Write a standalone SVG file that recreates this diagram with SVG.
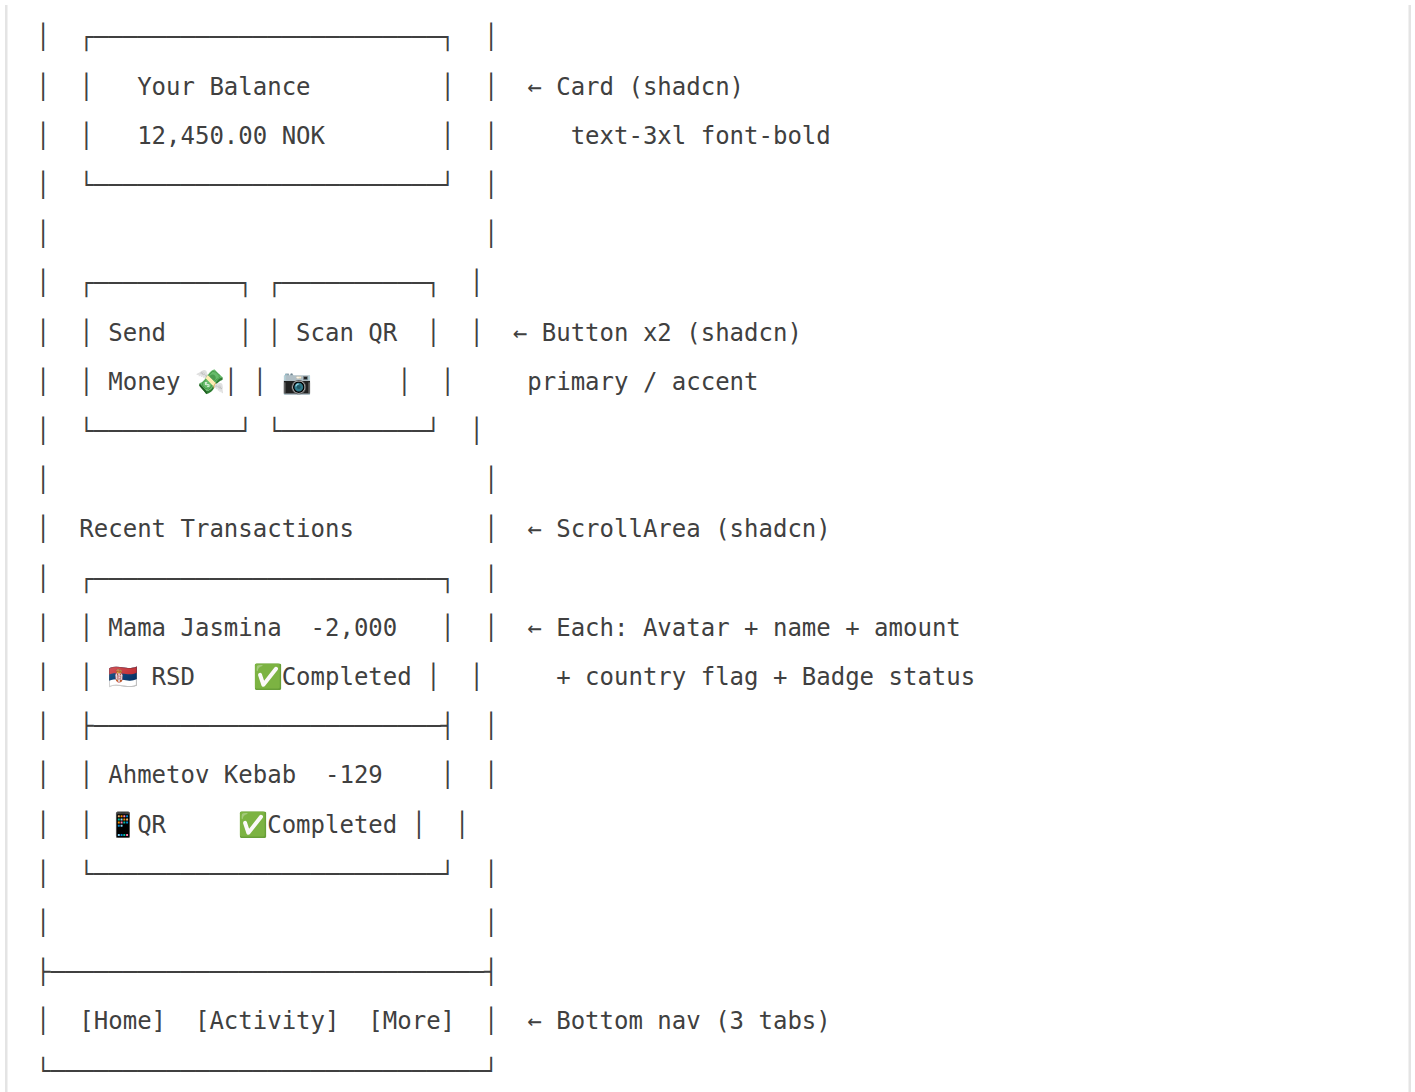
<svg xmlns="http://www.w3.org/2000/svg" width="1415" height="1092" viewBox="0 0 1415 1092">
<style>
text { font-family: "DejaVu Sans Mono", "Liberation Mono", monospace; font-size: 24px; fill: #404040; white-space: pre; }
.edge { fill: #e4e4e4; }
</style>
<rect x="0" y="0" width="1415" height="1092" fill="#ffffff"/>
<rect class="edge" x="5" y="5" width="2.5" height="1087"/>
<rect class="edge" x="1408.5" y="5" width="2.5" height="1087"/>

<g id="phone-frame">
  <text x="36" y="45.3">│</text><text x="483.95" y="45.3">│</text>
  <text x="36" y="94.5">│</text><text x="483.95" y="94.5">│</text>
  <text x="36" y="143.7">│</text><text x="483.95" y="143.7">│</text>
  <text x="36" y="192.9">│</text><text x="483.95" y="192.9">│</text>
  <text x="36" y="242.1">│</text><text x="483.95" y="242.1">│</text>
  <text x="36" y="291.3">│</text><text x="469.5" y="291.3">│</text>
  <text x="36" y="340.5">│</text><text x="469.5" y="340.5">│</text>
  <text x="36" y="389.7">│</text><text x="440.6" y="389.7">│</text>
  <text x="36" y="438.9">│</text><text x="469.5" y="438.9">│</text>
  <text x="36" y="488.1">│</text><text x="483.95" y="488.1">│</text>
  <text x="36" y="537.3">│</text><text x="483.95" y="537.3">│</text>
  <text x="36" y="586.5">│</text><text x="483.95" y="586.5">│</text>
  <text x="36" y="635.7">│</text><text x="483.95" y="635.7">│</text>
  <text x="36" y="684.9">│</text><text x="469.5" y="684.9">│</text>
  <text x="36" y="734.1">│</text><text x="483.95" y="734.1">│</text>
  <text x="36" y="783.3">│</text><text x="483.95" y="783.3">│</text>
  <text x="36" y="832.5">│</text><text x="455.05" y="832.5">│</text>
  <text x="36" y="881.7">│</text><text x="483.95" y="881.7">│</text>
  <text x="36" y="930.9">│</text><text x="483.95" y="930.9">│</text>
  <text x="36" y="980.1">├──────────────────────────────┤</text>
  <text x="36" y="1029.3">│</text><text x="483.95" y="1029.3">│</text>
  <text x="36" y="1078.5">└──────────────────────────────┘</text>
</g>

<g id="balance-card">
  <text x="79.35" y="45.3">┌────────────────────────┐</text>
  <text x="79.35" y="94.5">│</text><text x="137.15" y="94.5">Your Balance</text><text x="440.6" y="94.5">│</text>
  <text x="79.35" y="143.7">│</text><text x="137.15" y="143.7">12,450.00 NOK</text><text x="440.6" y="143.7">│</text>
  <text x="79.35" y="192.9">└────────────────────────┘</text>
</g>

<g id="action-buttons">
  <text x="79.35" y="291.3">┌──────────┐ ┌──────────┐</text>
  <text x="79.35" y="340.5">│ Send     │</text><text x="267.2" y="340.5">│ Scan QR  │</text>
  <text x="79.35" y="389.7">│ Money </text><text x="194.95" y="389.7">💸</text><text x="223.85" y="389.7">│</text>
  <text x="252.75" y="389.7">│</text><text x="281.65" y="389.7">📷</text><text x="397.25" y="389.7">│</text>
  <text x="79.35" y="438.9">└──────────┘ └──────────┘</text>
</g>

<g id="recent-transactions">
  <text x="79.35" y="537.3">Recent Transactions</text>
  <text x="79.35" y="586.5">┌────────────────────────┐</text>
  <text x="79.35" y="635.7">│</text><text x="108.25" y="635.7">Mama Jasmina  -2,000</text><text x="440.6" y="635.7">│</text>
  <text x="79.35" y="684.9">│</text><text x="108.25" y="684.9">🇷🇸</text><text x="151.6" y="684.9">RSD</text><text x="252.75" y="684.9">✅</text><text x="281.65" y="684.9">Completed</text><text x="426.15" y="684.9">│</text>
  <text x="79.35" y="734.1">├────────────────────────┤</text>
  <text x="79.35" y="783.3">│</text><text x="108.25" y="783.3">Ahmetov Kebab  -129</text><text x="440.6" y="783.3">│</text>
  <text x="79.35" y="832.5">│</text><text x="108.25" y="832.5">📱</text><text x="137.15" y="832.5">QR</text><text x="238.3" y="832.5">✅</text><text x="267.2" y="832.5">Completed</text><text x="411.7" y="832.5">│</text>
  <text x="79.35" y="881.7">└────────────────────────┘</text>
</g>

<g id="bottom-nav">
  <text x="79.35" y="1029.3">[Home]  [Activity]  [More]</text>
</g>

<g id="annotations">
  <text x="527.3" y="94.5">← Card (shadcn)</text>
  <text x="570.65" y="143.7">text-3xl font-bold</text>
  <text x="512.85" y="340.5">← Button x2 (shadcn)</text>
  <text x="527.3" y="389.7">primary / accent</text>
  <text x="527.3" y="537.3">← ScrollArea (shadcn)</text>
  <text x="527.3" y="635.7">← Each: Avatar + name + amount</text>
  <text x="556.2" y="684.9">+ country flag + Badge status</text>
  <text x="527.3" y="1029.3">← Bottom nav (3 tabs)</text>
</g>

<g id="connectors"></g>
</svg>
